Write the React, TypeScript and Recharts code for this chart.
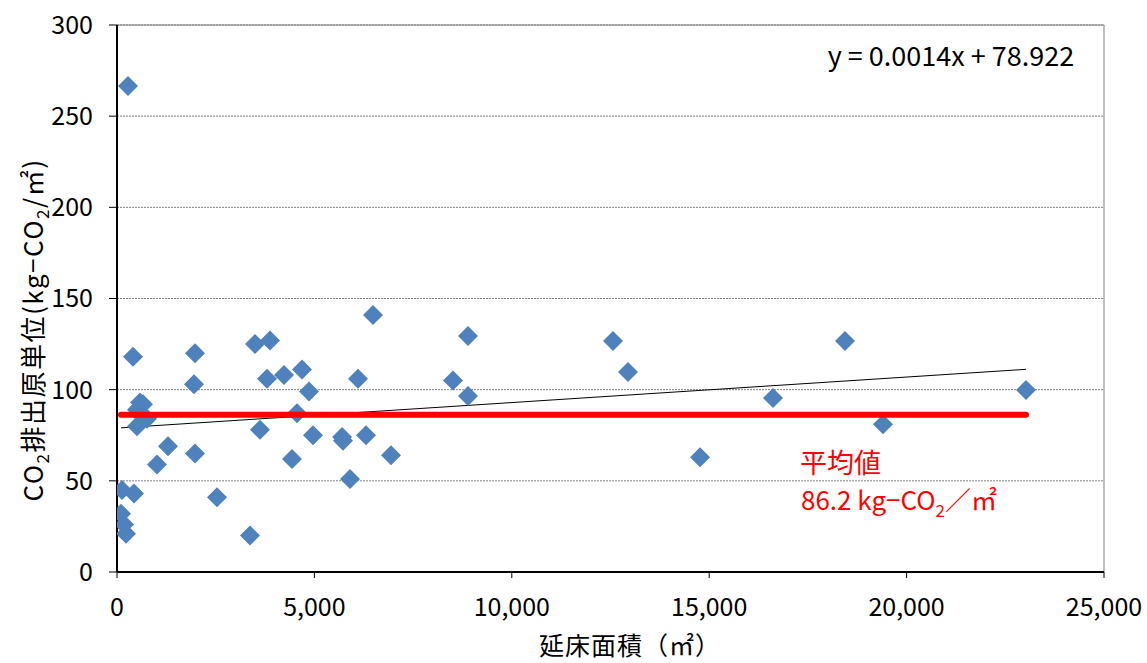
import React from "react";
import {
  CartesianGrid,
  ReferenceLine,
  Scatter,
  ScatterChart,
  XAxis,
  YAxis,
} from "recharts";

// 延床面積 (m2)
const floorAreas = [
  279, 405, 1976, 1950, 583, 659, 507, 659, 760, 507,
  127, 430, 101, 177, 228, 3369, 2533, 1013, 1292, 1976,
  3622, 4433, 3800, 3495, 3876, 4230, 4686, 4863, 6105, 6485,
  4560, 4965, 5700, 5725, 6307, 6940, 8891, 8511, 8891, 5902,
  12564, 12944, 14768, 16616, 18440, 19403, 23025,
];
// CO2排出原単位 (kg-CO2/m2)
const intensities = [
  266.6, 118, 120, 103, 93, 92, 89, 85, 84, 80,
  45, 43, 32, 26, 21, 20, 41, 59, 69, 65,
  78, 62, 106, 125, 127, 108, 111, 99, 106, 141,
  87, 75, 74, 72, 75, 64, 129.5, 105, 96.5, 51,
  126.7, 109.7, 63, 95.4, 126.7, 81, 99.8,
];
const xTicks = [0, 5000, 10000, 15000, 20000, 25000];
const yTicks = [0, 50, 100, 150, 200, 250, 300];
const slope = 0.0014;
const intercept = 78.922;
const meanValue = 86.2;

const points = floorAreas.map((x, i) => ({ x, y: intensities[i] }));
const xMin = Math.min(...floorAreas);
const xMax = Math.max(...floorAreas);
const trendData = [
  { x: xMin, y: slope * xMin + intercept },
  { x: xMax, y: slope * xMax + intercept },
];
const meanData = [
  { x: xMin, y: meanValue },
  { x: xMax, y: meanValue },
];

const FONT = "'Noto Sans CJK JP', 'Noto Sans', sans-serif";

const Diamond = (props: any) => {
  const { cx, cy } = props;
  const r = 10;
  return (
    <path
      d={`M${cx},${cy - r}L${cx + r},${cy}L${cx},${cy + r}L${cx - r},${cy}Z`}
      fill="#4F81BD"
    />
  );
};

const NoDot = () => <g />;

const YLabel = () => (
  <text
    transform="translate(43,330) rotate(-90)"
    textAnchor="middle"
    fontSize={26}
    letterSpacing={1.5}
    fontFamily={FONT}
    fill="#000"
  >
    <tspan>CO</tspan>
    <tspan fontSize={17} dy={6}>2</tspan>
    <tspan dy={-6}>排出原単位(kg−CO</tspan>
    <tspan fontSize={17} dy={6}>2</tspan>
    <tspan dy={-6}>/㎡)</tspan>
  </text>
);

const XLabel = () => (
  <text
    x={630}
    y={655}
    textAnchor="middle"
    fontSize={25}
    letterSpacing={1}
    fontFamily={FONT}
    fill="#000"
  >
    延床面積（㎡）
  </text>
);

const Annotations = () => (
  <g fontFamily={FONT}>
    <text x={951} y={66} textAnchor="middle" fontSize={27} fill="#000">
      y = 0.0014x + 78.922
    </text>
    <text x={800} y={473} fontSize={27} fill="#FF0000">
      平均値
    </text>
    <text x={801} y={510} fontSize={26} fill="#FF0000">
      <tspan>86.2 kg−CO</tspan>
      <tspan fontSize={17} dy={7}>2</tspan>
      <tspan dy={-7}>／㎡</tspan>
    </text>
  </g>
);

export default function App() {
  if (typeof document !== "undefined") document.body.style.margin = "0";
  return (
    <div style={{ width: 1147, height: 663, background: "#fff" }}>
      <ScatterChart
        width={1147}
        height={663}
        margin={{ top: 25, right: 43, bottom: 0, left: 0 }}
      >
        <CartesianGrid
          horizontal
          vertical={false}
          stroke="#808080"
          strokeDasharray="2 1"
        />
        <XAxis
          type="number"
          dataKey="x"
          domain={[0, 25000]}
          ticks={xTicks}
          tickFormatter={(v: number) => v.toLocaleString("en-US")}
          height={91}
          tickSize={6}
          tickMargin={20}
          axisLine={{ stroke: "#000", strokeWidth: 2 }}
          tickLine={{ stroke: "#000" }}
          tick={{ fontSize: 25, fontFamily: FONT, fill: "#000" }}
          allowDataOverflow
        />
        <YAxis
          type="number"
          dataKey="y"
          domain={[0, 300]}
          ticks={yTicks}
          width={117}
          tickSize={8}
          tickMargin={16}
          axisLine={{ stroke: "#000", strokeWidth: 2 }}
          tickLine={{ stroke: "#000" }}
          tick={{ fontSize: 25, fontFamily: FONT, fill: "#000" }}
        />
        <ReferenceLine x={25000} stroke="#808080" />
        <ReferenceLine y={300} stroke="#808080" />
        <Scatter
          data={trendData}
          line={{ stroke: "#000", strokeWidth: 1 }}
          shape={NoDot}
          isAnimationActive={false}
        />
        <Scatter data={points} shape={Diamond} isAnimationActive={false} />
        <Scatter
          data={meanData}
          line={{ stroke: "#FF0000", strokeWidth: 6, strokeLinecap: "round" }}
          shape={NoDot}
          isAnimationActive={false}
        />
        <YLabel />
        <XLabel />
        <Annotations />
      </ScatterChart>
    </div>
  );
}
